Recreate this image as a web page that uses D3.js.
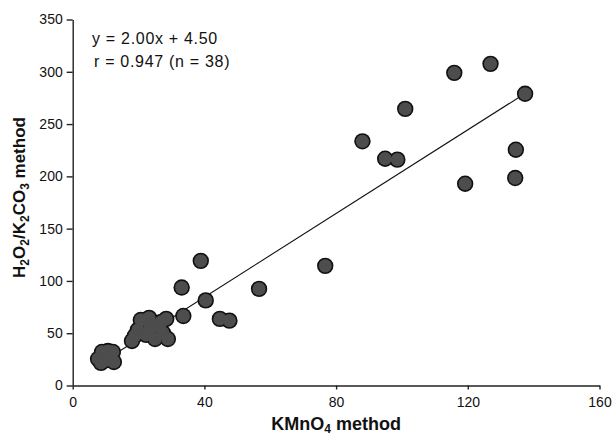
<!DOCTYPE html>
<html>
<head>
<meta charset="utf-8">
<script src="https://cdn.jsdelivr.net/npm/d3@7"></script>
<style>
  html, body { margin: 0; padding: 0; background: #fff; }
  svg { display: block; }
  .axis path, .axis line { stroke: #222; stroke-width: 1.4; }
  .axis text { font-family: "Liberation Sans", Arial, sans-serif; font-size: 14px; fill: #111; }
</style>
</head>
<body>
<svg id="chart" width="614" height="436"></svg>
<script>
// KMnO4 method results (x) against H2O2/K2CO3 method results (y)
const kmno4 = [
  115.9, 126.9, 137.4, 101.0, 88.0, 94.9, 98.6, 134.6, 134.4, 119.2, 76.7,
  33.1, 40.4, 56.6, 33.6, 44.7, 47.6, 38.9,
  7.7, 8.9, 10.7, 12.2, 12.5, 10.1, 8.6,
  18.0, 19.8, 20.7, 23.2, 25.3, 22.3, 25.0, 27.4, 28.9, 28.4, 18.9, 23.5, 26.9
];
const h2o2 = [
  299, 307.6, 279, 264.5, 233.5, 216.9, 216, 225.5, 198.4, 193, 114.4,
  93.7, 81.4, 92.4, 66.5, 63.7, 62, 119.2,
  25.4, 32.1, 33.0, 32.1, 22.5, 24.4, 21.6,
  42.6, 53.2, 62.7, 64.7, 57.0, 48.4, 44.5, 50.3, 44.5, 63.7, 47.6, 55.1, 60.8
];
const xTicks = [0, 40, 80, 120, 160];
const yTicks = [0, 50, 100, 150, 200, 250, 300, 350];
const slope = 2.00, intercept = 4.50, r = 0.947;

const svg = d3.select("#chart");
const x = d3.scaleLinear().domain([0, 160]).range([72.7, 599.5]);
const y = d3.scaleLinear().domain([0, 350]).range([385.5, 19.5]);

// axes
svg.append("g").attr("class", "axis")
  .attr("transform", `translate(0,${y(0)})`)
  .call(d3.axisBottom(x).tickValues(xTicks).tickSize(4).tickPadding(8).tickSizeOuter(0));
svg.append("g").attr("class", "axis")
  .attr("transform", `translate(${x(0)},0)`)
  .call(d3.axisLeft(y).tickValues(yTicks).tickSize(6).tickPadding(4).tickSizeOuter(0));

// fitted regression line over the data range
const xs = d3.extent(kmno4);
svg.append("line")
  .attr("x1", x(xs[0])).attr("y1", y(slope * xs[0] + intercept))
  .attr("x2", x(xs[1])).attr("y2", y(slope * xs[1] + intercept))
  .attr("stroke", "#111").attr("stroke-width", 1.1);

const pts = kmno4.map((v, i) => ({ x: v, y: h2o2[i] }));
// outlines underneath, fills on top so touching markers merge into one shape
svg.append("g").selectAll("circle").data(pts).join("circle")
  .attr("cx", d => x(d.x)).attr("cy", d => y(d.y)).attr("r", 8.2)
  .attr("fill", "#111");
svg.append("g").selectAll("circle").data(pts).join("circle")
  .attr("cx", d => x(d.x)).attr("cy", d => y(d.y)).attr("r", 6.6)
  .attr("fill", "#4d4d4d");

// equation annotation
const ann = svg.append("g")
  .style("font-family", '"Liberation Sans", Arial, sans-serif')
  .style("font-size", "16px").style("letter-spacing", "0.7px").attr("fill", "#111");
ann.append("text").attr("x", 92).attr("y", 44)
  .text(`y = ${slope.toFixed(2)}x + ${intercept.toFixed(2)}`);
ann.append("text").attr("x", 94).attr("y", 67)
  .text(`r = ${r.toFixed(3)} (n = ${kmno4.length})`);

// axis titles
const xt = svg.append("text")
  .attr("x", (x(0) + x(160)) / 2).attr("y", 430)
  .attr("text-anchor", "middle")
  .style("font-family", '"Liberation Sans", Arial, sans-serif')
  .style("font-size", "18px").style("font-weight", "bold").attr("fill", "#111");
xt.append("tspan").text("KMnO");
xt.append("tspan").attr("font-size", "12px").attr("dy", 3).text("4");
xt.append("tspan").attr("dy", -3).text(" method");

const yt = svg.append("text")
  .attr("transform", `translate(25,${(y(0) + y(350)) / 2 - 5}) rotate(-90)`)
  .attr("text-anchor", "middle")
  .style("font-family", '"Liberation Sans", Arial, sans-serif')
  .style("font-size", "17px").style("font-weight", "bold").attr("fill", "#111");
const parts = [["H", false], ["2", true], ["O", false], ["2", true], ["/K", false], ["2", true],
               ["CO", false], ["3", true], [" method", false]];
let sub = false;
parts.forEach(([t, s]) => {
  const ts = yt.append("tspan").text(t);
  if (s && !sub) ts.attr("dy", 4);
  if (!s && sub) ts.attr("dy", -4);
  if (s) ts.attr("font-size", "12px");
  sub = s;
});
</script>
</body>
</html>
